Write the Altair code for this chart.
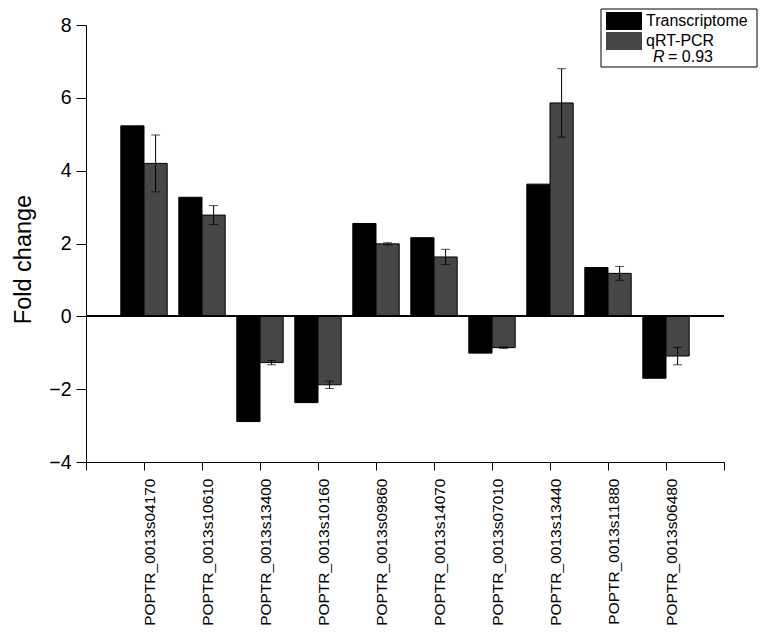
import altair as alt
import pandas as pd

genes = ["POPTR_0013s04170", "POPTR_0013s10610", "POPTR_0013s13400", "POPTR_0013s10160",
         "POPTR_0013s09860", "POPTR_0013s14070", "POPTR_0013s07010", "POPTR_0013s13440",
         "POPTR_0013s11880", "POPTR_0013s06480"]
transcriptome = [5.23, 3.27, -2.89, -2.37, 2.55, 2.16, -1.01, 3.63, 1.34, -1.70]
qrt_pcr = [4.20, 2.78, -1.27, -1.88, 1.99, 1.63, -0.86, 5.86, 1.18, -1.09]
qrt_err = [0.78, 0.26, 0.06, 0.10, 0.03, 0.21, 0.02, 0.94, 0.19, 0.24]
series = ["Transcriptome", "qRT-PCR"]
colors = ["#000000", "#464646"]
r_value = 0.93

rows = []
for i, g in enumerate(genes):
    pos = i + 1
    rows.append({"gene": g, "series": series[0], "value": transcriptome[i], "err": 0.0,
                 "x0": pos - 0.4, "x1": pos, "xc": pos - 0.2})
    rows.append({"gene": g, "series": series[1], "value": qrt_pcr[i], "err": qrt_err[i],
                 "x0": pos, "x1": pos + 0.4, "xc": pos + 0.2})
df = pd.DataFrame(rows)
df["lo"] = df["value"] - df["err"]
df["hi"] = df["value"] + df["err"]
err_df = df[df["series"] == series[1]]

FONT = "Liberation Sans"
gene_arr = "[" + ",".join("'" + g + "'" for g in genes) + "]"
x_label_expr = ("(datum.value % 1 == 0 && datum.value >= 1 && datum.value <= " + str(len(genes))
                + ") ? " + gene_arr + "[datum.value - 1] : ''")

x_scale = alt.Scale(domain=[0, len(genes) + 1], nice=False, zero=False)
y_scale = alt.Scale(domain=[-4, 8], nice=False)

x_axis = alt.Axis(
    values=[k / 2 for k in range(0, 2 * (len(genes) + 1) + 1)],
    labelExpr=x_label_expr, labelAngle=-90, labelFontSize=15.5, labelFont=FONT,
    labelColor="black", labelPadding=8, labelOverlap=False, labelFlush=False,
    labelBaseline="alphabetic", labelOffset=10,
    tickSize={"condition": {"test": "datum.value % 1 != 0", "value": 4}, "value": 8},
    tickColor="black", domainColor="black", grid=False, title=None,
)
y_axis = alt.Axis(
    values=list(range(-4, 9)),
    labelExpr="datum.value % 2 == 0 ? datum.label : ''",
    labelFontSize=19.5, labelFont=FONT, labelColor="black", labelPadding=5,
    labelOverlap=False, labelFlush=False,
    tickSize={"condition": {"test": "datum.value % 2 != 0", "value": 4}, "value": 10},
    tickColor="black", domainColor="black", grid=False,
    title="Fold change", titleFontSize=23.5, titleFont=FONT, titleFontWeight="normal",
    titleColor="black", titleX=-56, titleY=234, titleBaseline="alphabetic", titleAngle=-90,
)

bars = alt.Chart(df).mark_bar(stroke="black", strokeWidth=1).encode(
    x=alt.X("x0:Q", scale=x_scale, axis=x_axis),
    x2="x1:Q",
    y=alt.Y("value:Q", scale=y_scale, axis=y_axis),
    y2=alt.datum(0),
    color=alt.Color("series:N", scale=alt.Scale(domain=series, range=colors),
                    sort=series,
                    legend=alt.Legend(
                        orient="none", legendX=529, legendY=-13, title=None,
                        padding=0,
                        symbolType="M-2,-1H2V1H-2Z", symbolSize=324,
                        symbolStrokeWidth=0, symbolOpacity=1,
                        labelFontSize=16, labelFont=FONT, labelColor="black",
                        labelOffset=13, rowPadding=2,
                    )),
)

zero = alt.Chart(df).mark_rule(color="black", strokeWidth=1).encode(y=alt.datum(0))

err_rule = alt.Chart(err_df).mark_rule(color="black", strokeWidth=1).encode(
    x=alt.X("xc:Q", scale=x_scale), y=alt.Y("lo:Q", scale=y_scale), y2="hi:Q"
)
cap_lo = alt.Chart(err_df).mark_tick(color="black", orient="horizontal", size=9, thickness=1).encode(
    x=alt.X("xc:Q", scale=x_scale), y=alt.Y("lo:Q", scale=y_scale)
)
cap_hi = alt.Chart(err_df).mark_tick(color="black", orient="horizontal", size=9, thickness=1).encode(
    x=alt.X("xc:Q", scale=x_scale), y=alt.Y("hi:Q", scale=y_scale)
)

# legend frame and correlation annotation
box_df = pd.DataFrame({"r": ["R"], "rest": ["= %.2f" % r_value]})
legend_box = alt.Chart(box_df).mark_rect(fill="white", stroke="black", strokeWidth=1).encode(
    x=alt.value(515), x2=alt.value(671), y=alt.value(-16), y2=alt.value(42))
r_text = alt.Chart(box_df).mark_text(font=FONT, fontSize=16, fontStyle="italic", align="left",
                                     baseline="alphabetic", color="black").encode(
    text="r:N", x=alt.value(567), y=alt.value(37))
rest_text = alt.Chart(box_df).mark_text(font=FONT, fontSize=16, align="left",
                                        baseline="alphabetic", color="black").encode(
    text="rest:N", x=alt.value(582), y=alt.value(37))

chart = alt.layer(legend_box, bars, zero, err_rule, cap_lo, cap_hi, r_text, rest_text).properties(
    width=638, height=437,
    padding={"left": 78, "top": 17, "right": 40, "bottom": 170},
    autosize=alt.AutoSizeParams(type="none"),
).configure_view(stroke=None)

chart.save("out.html", embed_options={"renderer": "svg", "actions": False})
